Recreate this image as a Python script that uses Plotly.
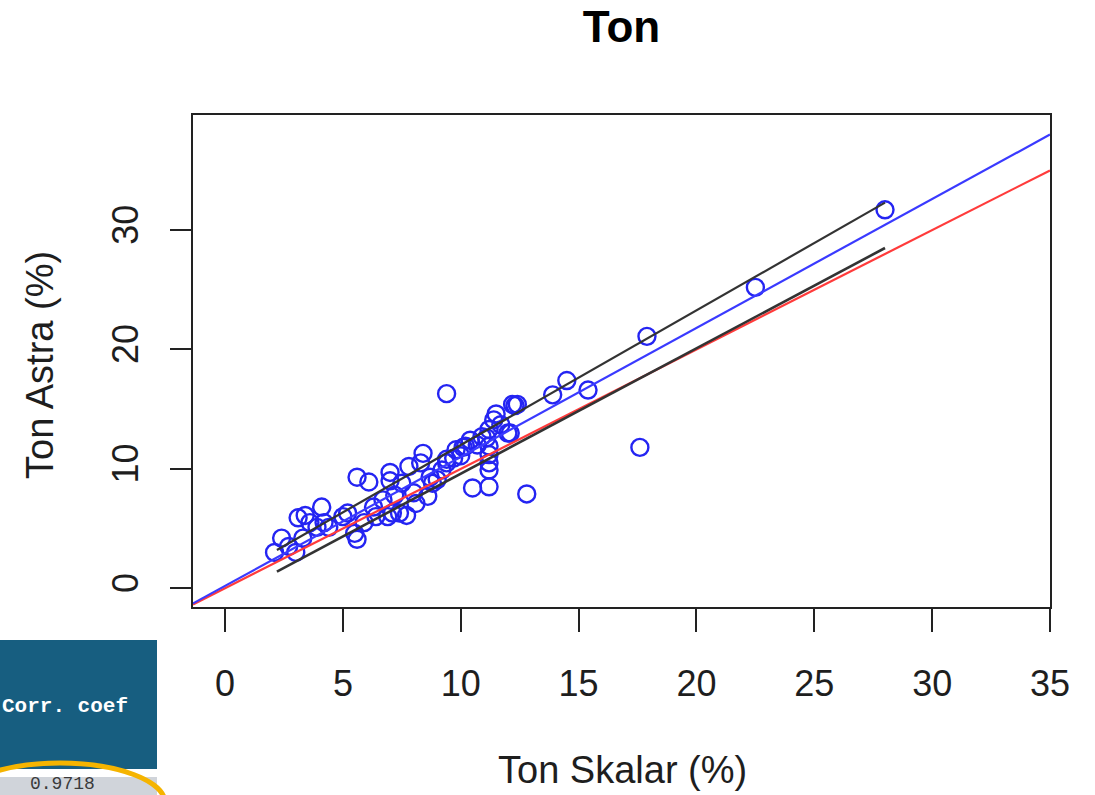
import plotly.graph_objects as go

# Ton content measured by two methods (%)
ton_skalar = [28.0, 22.5, 17.9, 17.6, 15.4, 14.5, 13.9, 9.4, 12.8, 12.4,
              12.3, 11.5, 11.7, 12.0, 11.2, 11.4, 11.1, 11.2, 11.2, 11.2,
              11.2, 11.2, 10.5, 10.4, 10.2, 9.8, 9.7, 9.4, 9.2, 9.0,
              8.8, 8.4, 8.3, 7.8, 8.0, 8.6, 8.1, 7.5, 7.0, 7.0,
              6.7, 6.9, 7.1, 7.4, 7.7, 6.4, 5.9, 6.1, 5.6, 5.6,
              5.5, 5.2, 4.2, 4.1, 3.9, 3.6, 3.4, 3.1, 3.0, 2.4,
              2.1, 2.7, 8.7, 9.4, 10.1, 10.7, 10.9, 12.1, 12.2, 10.0,
              6.3, 7.2, 5.0, 4.4, 3.3]
ton_astra = [31.7, 25.2, 21.1, 11.8, 16.6, 17.4, 16.2, 16.3, 7.9, 15.4,
             15.3, 14.6, 13.7, 13.0, 13.3, 14.1, 12.6, 11.9, 11.2, 10.5,
             9.9, 8.5, 8.4, 12.4, 11.9, 11.6, 10.9, 10.5, 9.9, 9.1,
             8.8, 11.3, 10.5, 10.2, 8.0, 7.7, 7.1, 8.8, 9.7, 9.0,
             7.4, 6.0, 6.3, 6.3, 6.1, 6.0, 5.5, 8.9, 9.3, 4.1,
             4.6, 6.3, 5.5, 6.8, 5.1, 5.5, 6.1, 5.9, 3.0, 4.2,
             3.0, 3.5, 9.3, 10.8, 11.8, 12.0, 12.7, 13.0, 15.4, 11.1,
             6.8, 7.8, 6.0, 5.1, 4.2]

# Fitted regression line and its confidence limits over the data range
fit_intercept = 0.2
fit_slope = 1.08
band_x = [2.2, 28.0]
band_upper = [3.2, 32.3]
band_lower = [1.4, 28.5]
corr_coef = "0.9718"

x_range = [-1.36, 35.0]
y_range = [-1.57, 39.64]
x_ticks = [0, 5, 10, 15, 20, 25, 30, 35]
y_ticks = [0, 10, 20, 30]

W, H = 1095, 795
ML, MR, MT, MB = 193, 45, 115, 188
PW, PH = W - ML - MR, H - MT - MB


def px(x):
    return (x - ML) / PW


def py(y):
    return (H - MB - y) / PH


fig = go.Figure()

fig.add_trace(go.Scatter(
    x=ton_skalar, y=ton_astra, mode="markers",
    marker=dict(symbol="circle-open", size=17, color="#2424f2",
                line=dict(width=2.4, color="#2424f2")),
    showlegend=False, hoverinfo="x+y"))

# line of identity
fig.add_trace(go.Scatter(
    x=x_range, y=x_range, mode="lines",
    line=dict(color="#ff3b3b", width=2.2), showlegend=False))

# regression line
fig.add_trace(go.Scatter(
    x=x_range, y=[fit_intercept + fit_slope * v for v in x_range],
    mode="lines", line=dict(color="#3a3aff", width=2.2), showlegend=False))

# confidence limits
fig.add_trace(go.Scatter(
    x=band_x, y=band_upper, mode="lines",
    line=dict(color="#333333", width=2.2), showlegend=False))
fig.add_trace(go.Scatter(
    x=band_x, y=band_lower, mode="lines",
    line=dict(color="#333333", width=2.6), showlegend=False))

tick_font = dict(family="Liberation Sans, Arial, sans-serif", size=36, color="#1e1e1e")
title_font = dict(family="Liberation Sans, Arial, sans-serif", size=38, color="#1e1e1e")

fig.update_layout(
    width=W, height=H,
    margin=dict(l=ML, r=MR, t=MT, b=MB, autoexpand=False),
    paper_bgcolor="white", plot_bgcolor="white",
    title=dict(text="<b>Ton</b>", xref="paper", x=0.5, xanchor="center",
               yref="container", y=1 - 27 / H, yanchor="middle",
               font=dict(family="Liberation Sans, Arial, sans-serif", size=44, color="black")),
    xaxis=dict(range=x_range, tickvals=x_ticks, ticks="outside", ticklen=23,
               tickwidth=2, tickcolor="#222", showline=True, linewidth=2,
               linecolor="#222", mirror=True, showgrid=False, zeroline=False,
               tickfont=tick_font, ticklabelstandoff=21),
    yaxis=dict(range=y_range, tickvals=y_ticks, ticks="outside", ticklen=21,
               tickwidth=2, tickcolor="#222", showline=True, linewidth=2,
               linecolor="#222", mirror=True, showgrid=False, zeroline=False,
               tickfont=tick_font, tickangle=-90, ticklabelstandoff=18),
)

# axis titles
fig.add_annotation(text="Ton Skalar (%)", xref="paper", yref="paper",
                   x=px(622), y=py(770), xanchor="center", yanchor="middle",
                   showarrow=False, font=title_font)
fig.add_annotation(text="Ton Astra (%)", xref="paper", yref="paper",
                   x=px(40), y=py(365), xanchor="center", yanchor="middle",
                   textangle=-90, showarrow=False, font=title_font)

# correlation coefficient table cell
fig.add_shape(type="rect", xref="paper", yref="paper",
              x0=px(-2), x1=px(157), y0=py(769), y1=py(640),
              fillcolor="#175e80", line=dict(width=0), layer="above")
fig.add_shape(type="rect", xref="paper", yref="paper",
              x0=px(-2), x1=px(157), y0=py(798), y1=py(777),
              fillcolor="#d0d4da", line=dict(width=0), layer="above")
fig.add_annotation(text="<b>Corr. coef</b>", xref="paper", yref="paper",
                   x=px(0), y=py(706), xanchor="left", yanchor="middle",
                   showarrow=False,
                   font=dict(family="Liberation Mono, Courier New, monospace",
                             size=21, color="white"))
fig.add_annotation(text=corr_coef, xref="paper", yref="paper",
                   x=px(62), y=py(784), xanchor="center", yanchor="middle",
                   showarrow=False,
                   font=dict(family="Liberation Mono, Courier New, monospace",
                             size=18, color="#3a3a3a"))
fig.add_shape(type="circle", xref="paper", yref="paper",
              x0=px(-45), x1=px(165), y0=py(843), y1=py(763),
              line=dict(color="#f5b400", width=5), layer="above")

fig.write_html("out.html")
